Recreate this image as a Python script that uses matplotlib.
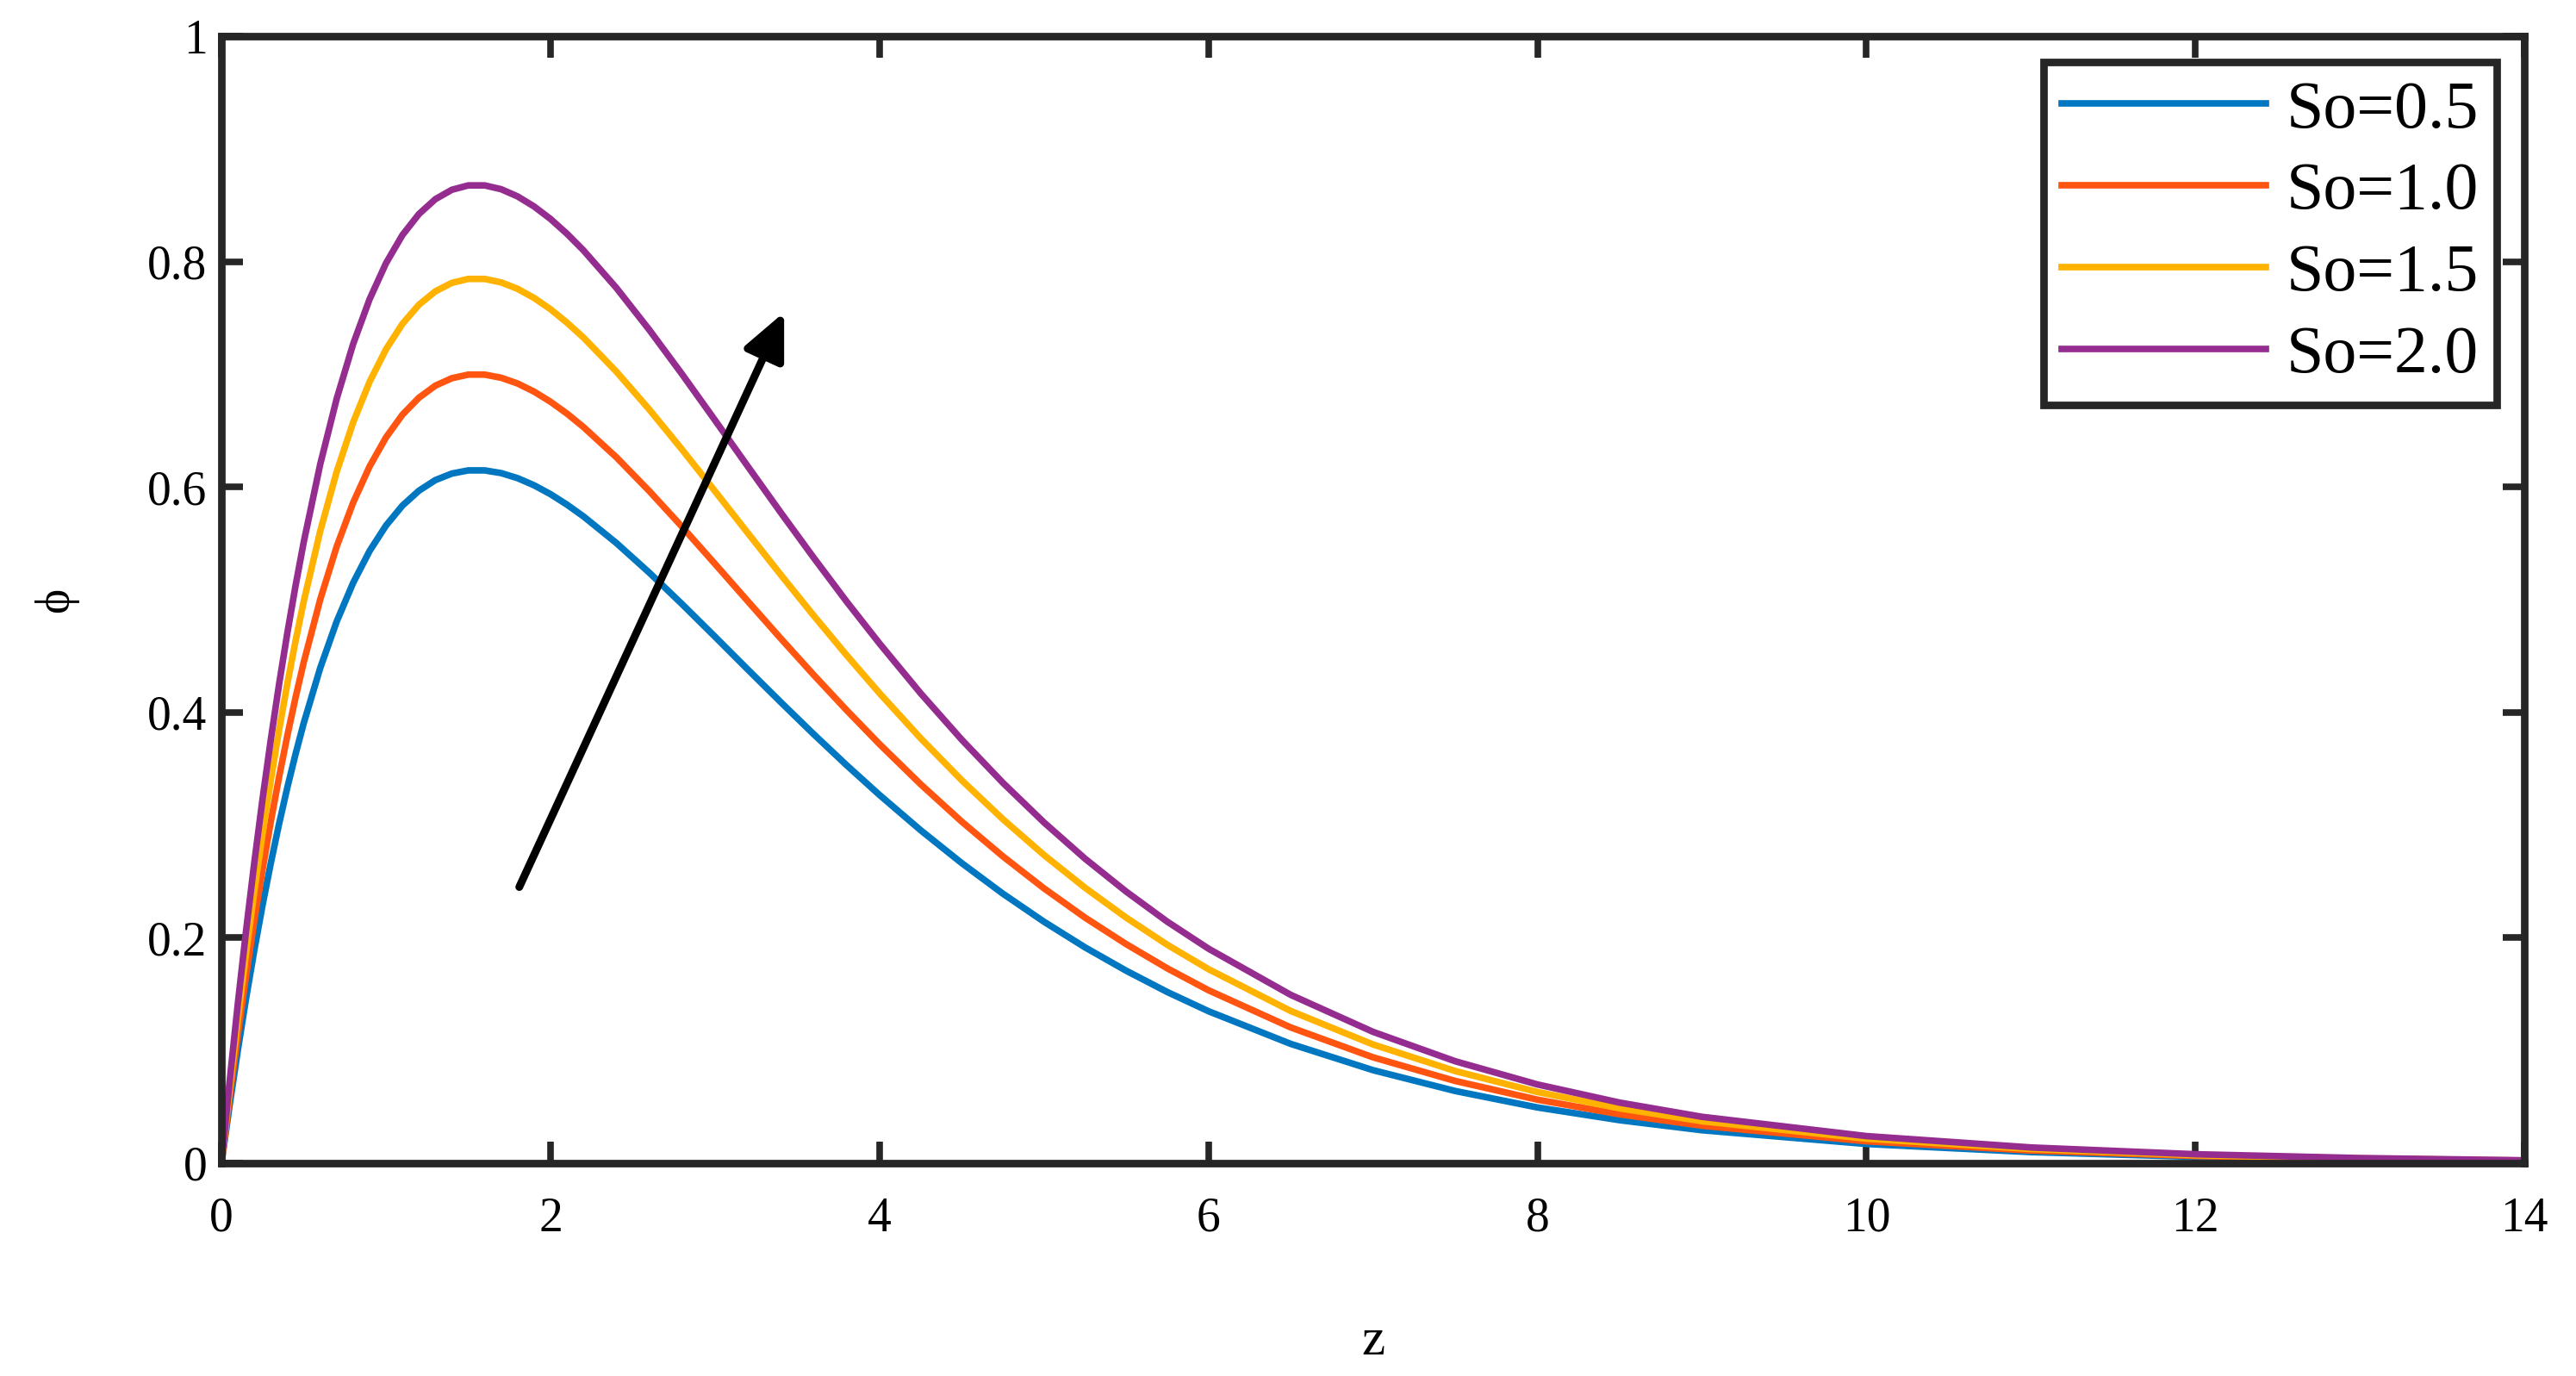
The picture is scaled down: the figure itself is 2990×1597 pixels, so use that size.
import numpy as np
import matplotlib
matplotlib.use("Agg")
import matplotlib.pyplot as plt

# z values
z = [0, 0.05, 0.1, 0.15, 0.2, 0.25, 0.3, 0.35, 0.4, 0.45, 0.5,
     0.6, 0.7, 0.8, 0.9, 1.0, 1.1, 1.2, 1.3, 1.4, 1.5,
     1.6, 1.7, 1.8, 1.9, 2.0, 2.1, 2.2,
     2.4, 2.6, 2.8, 3.0, 3.2, 3.4, 3.6, 3.8, 4.0,
     4.25, 4.5, 4.75, 5.0, 5.25, 5.5, 5.75, 6.0,
     6.5, 7.0, 7.5, 8.0, 8.5, 9.0,
     10, 11, 12, 13, 14]

phi_05 = [0, .0522, .1011, .1469, .1896, .2295, .2666, .3012, .3333, .3630, .3906,
          .4394, .4806, .5149, .5432, .5658, .5835, .5967, .6061, .6119, .6147,
          .6147, .6123, .6078, .6015, .5936, .5843, .5739,
          .5503, .5240, .4960, .4671, .4379, .4090, .3806, .3531, .3267,
          .2954, .2662, .2391, .2142, .1914, .1707, .1518, .1348,
          .1058, .0825, .0640, .0494, .0381, .0292,
          .0170, .0098, .0056, .0032, .0018]
phi_10 = [0, .0594, .1151, .1672, .2158, .2612, .3035, .3428, .3793, .4132, .4446,
          .5002, .5471, .5861, .6182, .6440, .6642, .6792, .6899, .6965, .6997,
          .6997, .6969, .6918, .6846, .6756, .6651, .6532,
          .6264, .5964, .5646, .5317, .4985, .4655, .4332, .4019, .3718,
          .3362, .3030, .2722, .2438, .2178, .1943, .1728, .1534,
          .1204, .0939, .0729, .0563, .0433, .0332,
          .0194, .0112, .0064, .0036, .0020]
phi_15 = [0, .0666, .1291, .1875, .2420, .2929, .3403, .3844, .4254, .4634, .4986,
          .5609, .6135, .6573, .6933, .7222, .7448, .7617, .7736, .7811, .7846,
          .7846, .7815, .7758, .7677, .7577, .7458, .7326,
          .7024, .6688, .6331, .5962, .5590, .5220, .4858, .4507, .4170,
          .3770, .3397, .3052, .2734, .2443, .2178, .1937, .1721,
          .1350, .1053, .0817, .0631, .0486, .0372,
          .0217, .0126, .0071, .0041, .0023]
phi_20 = [0, .0737, .1427, .2073, .2676, .3239, .3763, .4251, .4704, .5124, .5513,
          .6202, .6783, .7268, .7666, .7986, .8236, .8422, .8554, .8637, .8676,
          .8676, .8642, .8578, .8489, .8378, .8247, .8100,
          .7767, .7395, .7000, .6592, .6181, .5772, .5372, .4983, .4611,
          .4169, .3757, .3375, .3023, .2701, .2409, .2142, .1903,
          .1493, .1165, .0904, .0698, .0537, .0411,
          .0240, .0139, .0079, .0045, .0025]

labels = ["So=0.5", "So=1.0", "So=1.5", "So=2.0"]
colors = ["#0077C0", "#FF5511", "#FFB300", "#952C90"]

x_ticks = [0, 2, 4, 6, 8, 10, 12, 14]
y_ticks = [0, 0.2, 0.4, 0.6, 0.8, 1]
y_tick_labels = ["0", "0.2", "0.4", "0.6", "0.8", "1"]

plt.rcParams["font.family"] = ["Liberation Serif", "DejaVu Serif"]

fig = plt.figure(figsize=(29.9, 15.97), dpi=100)
ax = fig.add_axes([0.086, 0.1547, 0.894, 0.819])

for y, lab, c in zip([phi_05, phi_10, phi_15, phi_20], labels, colors):
    ax.plot(z, y, color=c, lw=5.5, label=lab, solid_joinstyle="round")

ax.set_xlim(0, 14)
ax.set_ylim(0, 1)
ax.set_xticks(x_ticks)
ax.set_xticklabels([str(t) for t in x_ticks])
ax.set_yticks(y_ticks)
ax.set_yticklabels(y_tick_labels)

edge = "#262626"
for s in ax.spines.values():
    s.set_linewidth(6.3)
    s.set_color(edge)
ax.tick_params(direction="in", top=True, right=True, length=18, width=5.5,
               color=edge, labelsize=40, labelcolor="black")
ax.tick_params(axis="x", pad=28)
ax.tick_params(axis="y", pad=12)

ax.set_xlabel("z", fontsize=44)
ax.xaxis.set_label_coords(0.5, -0.137)
ax.set_ylabel("ϕ", fontsize=40)
ax.yaxis.set_label_coords(-0.062, 0.5)

# arrow showing increase of So
ax.annotate("", xy=(3.42, 0.755), xytext=(1.81, 0.245),
            arrowprops=dict(arrowstyle="-|>,head_length=0.65,head_width=0.3",
                            color="black", lw=6.5, mutation_scale=50,
                            shrinkA=0, shrinkB=0))

leg = ax.legend(loc="upper right", bbox_to_anchor=(0.988, 0.977), borderaxespad=0,
                fontsize=56, handlelength=3.05, handletextpad=0.3,
                labelspacing=0.3, borderpad=0.27, fancybox=False, framealpha=1)
leg.get_frame().set_linewidth(6.3)
leg.get_frame().set_edgecolor(edge)

fig.savefig("out.png", dpi=100, facecolor="white")
